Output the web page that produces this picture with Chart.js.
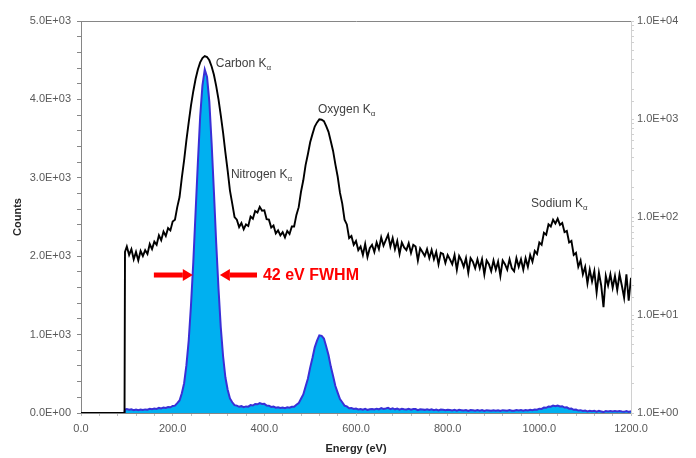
<!DOCTYPE html>
<html>
<head>
<meta charset="utf-8">
<title>Spectrum</title>
<script src="https://cdn.jsdelivr.net/npm/chart.js@4.4.0/dist/chart.umd.min.js"></script>
<style>
  html, body { margin: 0; padding: 0; background: #fff; }
  #wrap { width: 696px; height: 458px; position: relative; }
</style>
</head>
<body>
<div id="wrap"><canvas id="spectrum"></canvas></div>
<script>
// channel energies (eV)
var energy = [0, 95, 96,
  100, 105, 110, 115, 120, 125, 130, 135, 140, 145, 150, 155, 160, 165, 170, 175, 180, 185, 190, 195,
  200, 205, 210, 215, 220, 225, 230, 235, 240, 245, 250, 255, 260, 265, 270, 275, 280, 285, 290, 295,
  300, 305, 310, 315, 320, 325, 330, 335, 340, 345, 350, 355, 360, 365, 370, 375, 380, 385, 390, 395,
  400, 405, 410, 415, 420, 425, 430, 435, 440, 445, 450, 455, 460, 465, 470, 475, 480, 485, 490, 495,
  500, 505, 510, 515, 520, 525, 530, 535, 540, 545, 550, 555, 560, 565, 570, 575, 580, 585, 590, 595,
  600, 605, 610, 615, 620, 625, 630, 635, 640, 645, 650, 655, 660, 665, 670, 675, 680, 685, 690, 695,
  700, 705, 710, 715, 720, 725, 730, 735, 740, 745, 750, 755, 760, 765, 770, 775, 780, 785, 790, 795,
  800, 805, 810, 815, 820, 825, 830, 835, 840, 845, 850, 855, 860, 865, 870, 875, 880, 885, 890, 895,
  900, 905, 910, 915, 920, 925, 930, 935, 940, 945, 950, 955, 960, 965, 970, 975, 980, 985, 990, 995,
  1000, 1005, 1010, 1015, 1020, 1025, 1030, 1035, 1040, 1045, 1050, 1055, 1060, 1065, 1070, 1075, 1080, 1085, 1090, 1095,
  1100, 1105, 1110, 1115, 1120, 1125, 1130, 1135, 1140, 1145, 1150, 1155, 1160, 1165, 1170, 1175, 1180, 1185, 1190, 1195, 1200];

// counts per channel
var counts = [1, 1, 44,
  50, 41, 47, 37, 44, 36, 45, 40, 46, 42, 53, 47, 56, 52, 65, 58, 71, 64, 77, 73,
  90, 94, 126, 160, 252, 380, 610, 925, 1378, 1921, 2561, 3194, 3782, 4180, 4380, 4285, 3972, 3440, 2823, 2166,
  1588, 1089, 724, 456, 297, 186, 137, 100, 94, 79, 87, 75, 84, 81, 101, 96, 115, 111, 127, 116,
  117, 95, 94, 78, 82, 68, 73, 65, 70, 62, 72, 67, 80, 80, 105, 126, 181, 237, 338, 437,
  579, 701, 838, 923, 991, 984, 950, 847, 739, 592, 472, 344, 259, 177, 137, 94, 84, 61, 64, 52,
  57, 46, 50, 41, 53, 39, 48, 52, 44, 55, 47, 62, 51, 58, 66, 50, 61, 47, 57, 42,
  55, 49, 46, 54, 43, 52, 50, 36, 48, 44, 40, 47, 38, 46, 37, 44, 33, 43, 42, 34,
  41, 37, 33, 41, 29, 40, 36, 31, 38, 27, 38, 35, 30, 37, 30, 37, 26, 36, 33, 28,
  36, 29, 35, 25, 36, 33, 29, 37, 30, 28, 38, 31, 37, 29, 38, 31, 41, 35, 45, 42,
  55, 52, 69, 66, 84, 80, 94, 86, 96, 83, 87, 70, 72, 55, 57, 41, 43, 31, 36, 26,
  31, 21, 29, 22, 28, 17, 27, 20, 12, 25, 20, 26, 19, 25, 18, 26, 20, 15, 26, 14, 24];

// labelled ticks
var energyTicks = [0, 200, 400, 600, 800, 1000, 1200];
var countTicks = [0, 1000, 2000, 3000, 4000, 5000];
var logTicks = [1, 10, 100, 1000, 10000];

// peak names
var peakNames = ['Carbon K', 'Nitrogen K', 'Oxygen K', 'Sodium K'];

Chart.defaults.font.family = "'Liberation Sans', Arial, sans-serif";

function sci(v) {
  if (v === 0) return '0.0E+00';
  var p = Math.round(Math.log10(v) - 0.4999);
  var m = v / Math.pow(10, p);
  return m.toFixed(1) + 'E+' + (p < 10 ? '0' + p : p);
}

// where the labels sit, in energy / counts (left axis)
var labelSpots = [
  {e: 294, c: 4450},
  {e: 327, c: 3035},
  {e: 517, c: 3865},
  {e: 982, c: 2665}
];
var fwhm = {text: '42 eV FWHM', c: 1760, l0: 159, l1: 244, r0: 384, r1: 303, t: 397};

function arrow(ctx, x0, x1, y) {
  var dir = x1 > x0 ? 1 : -1;
  var hb = x1 - dir * 10;
  ctx.fillStyle = '#ff0000';
  ctx.fillRect(Math.min(x0, hb), y - 2.5, Math.abs(hb - x0), 5);
  ctx.beginPath();
  ctx.moveTo(x1, y);
  ctx.lineTo(hb, y - 6);
  ctx.lineTo(hb, y + 6);
  ctx.closePath();
  ctx.fill();
}

var notes = {
  id: 'notes',
  afterDatasetsDraw: function(chart) {
    var ctx = chart.ctx, xs = chart.scales.x, ys = chart.scales.y;
    ctx.save();
    ctx.textBaseline = 'middle';
    ctx.textAlign = 'left';
    for (var i = 0; i < peakNames.length; i++) {
      var px = xs.getPixelForValue(labelSpots[i].e);
      var py = ys.getPixelForValue(labelSpots[i].c);
      ctx.font = "12px 'Liberation Sans', Arial, sans-serif";
      ctx.fillStyle = '#404040';
      ctx.fillText(peakNames[i], px, py);
      var w = ctx.measureText(peakNames[i]).width;
      ctx.font = "8px 'Liberation Sans', Arial, sans-serif";
      ctx.fillText('\u03b1', px + w, py + 4);
    }
    var ay = ys.getPixelForValue(fwhm.c);
    arrow(ctx, xs.getPixelForValue(fwhm.l0), xs.getPixelForValue(fwhm.l1), ay);
    arrow(ctx, xs.getPixelForValue(fwhm.r0), xs.getPixelForValue(fwhm.r1), ay);
    ctx.font = "bold 16px 'Liberation Sans', Arial, sans-serif";
    ctx.fillStyle = '#ff0000';
    ctx.fillText(fwhm.text, xs.getPixelForValue(fwhm.t), ay + 1);
    ctx.restore();
  }
};

var logPts = energy.map(function(e, i) { return {x: e, y: counts[i]}; });
var linPts = energy.map(function(e, i) { return {x: e, y: counts[i]}; });

var tickFont = {size: 11};
var tickCol = '#595959';

new Chart(document.getElementById('spectrum').getContext('2d'), {
  type: 'line',
  data: {
    datasets: [
      {
        label: 'Counts (log)',
        data: logPts,
        yAxisID: 'y2',
        borderColor: '#000000',
        borderWidth: 1.9,
        pointRadius: 0,
        fill: false
      },
      {
        label: 'Counts',
        data: linPts,
        yAxisID: 'y',
        borderColor: '#3a2fd6',
        borderWidth: 2,
        backgroundColor: '#00b0f0',
        pointRadius: 0,
        fill: 'origin'
      }
    ]
  },
  options: {
    responsive: true,
    maintainAspectRatio: false,
    animation: false,
    plugins: { legend: { display: false }, tooltip: { enabled: false } },
    scales: {
      x: {
        type: 'linear', position: 'bottom', min: 0, max: 1200,
        ticks: {
          stepSize: 40, autoSkip: false, maxRotation: 0, padding: 6, color: tickCol, font: tickFont,
          callback: function(v) { return energyTicks.indexOf(Math.round(v)) >= 0 ? v.toFixed(1) : ''; }
        },
        grid: { drawOnChartArea: false, tickLength: 3, color: '#bfbfbf' },
        border: { color: '#868686' },
        title: { display: true, text: 'Energy (eV)', color: '#262626', font: {size: 11, weight: 'bold'}, padding: {top: 2, bottom: 2.4} },
        afterFit: function(s) { s.height = 45; }
      },
      x2: {
        type: 'linear', position: 'top', min: 0, max: 1200,
        ticks: { display: false },
        grid: { display: false },
        border: { color: '#868686' },
        afterFit: function(s) { s.height = 21; }
      },
      y: {
        type: 'linear', position: 'left', min: 0, max: 5000,
        ticks: {
          stepSize: 200, autoSkip: false, padding: 6, color: tickCol, font: tickFont,
          callback: function(v) { return countTicks.indexOf(Math.round(v)) >= 0 ? sci(v) : ''; }
        },
        grid: { drawOnChartArea: false, tickLength: 4, color: '#868686' },
        border: { color: '#868686' },
        title: { display: true, text: 'Counts', color: '#262626', font: {size: 11, weight: 'bold'}, padding: {top: 11.4, bottom: 0} },
        afterFit: function(s) { s.width = 81; }
      },
      y2: {
        type: 'logarithmic', position: 'right', min: 1, max: 10000,
        ticks: {
          autoSkip: false, padding: 3, color: tickCol, font: tickFont,
          callback: function(v) { return logTicks.indexOf(Math.round(v)) >= 0 ? sci(v) : ''; }
        },
        grid: { drawOnChartArea: false, tickLength: 3, color: '#d0d0d0' },
        border: { color: '#d0d0d0' },
        afterFit: function(s) { s.width = 65; }
      }
    }
  },
  plugins: [notes]
});
</script>
</body>
</html>
